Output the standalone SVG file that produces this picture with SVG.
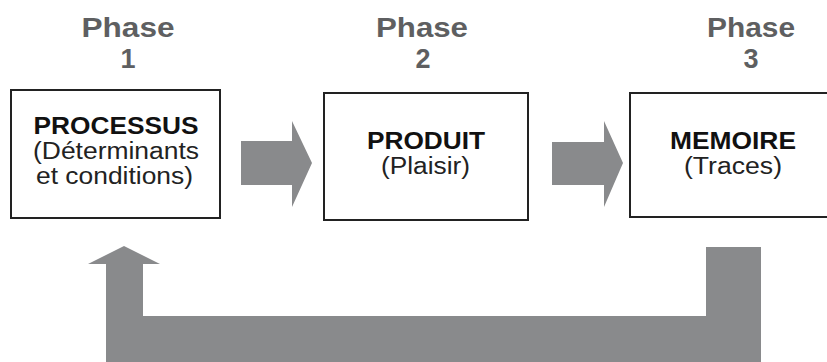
<svg xmlns="http://www.w3.org/2000/svg" width="827" height="362" viewBox="0 0 827 362">
  <style>
    .phase { font-family: "Liberation Sans", Arial, sans-serif; font-weight: bold; font-size: 27px; fill: #5e5f61; text-anchor: middle; }
    .title { font-family: "Liberation Sans", Arial, sans-serif; font-weight: bold; font-size: 23.5px; fill: #111; text-anchor: middle; }
    .sub { font-family: "Liberation Sans", Arial, sans-serif; font-size: 23.5px; fill: #222; text-anchor: middle; }
    .box { fill: #fff; stroke: #222; stroke-width: 2; }
    .flow { fill: #898a8c; }
  </style>
  <rect width="827" height="362" fill="#fff"/>

  <g id="phase1">
    <text class="phase" x="128" y="37" textLength="93" lengthAdjust="spacingAndGlyphs">Phase</text>
    <text class="phase" x="128" y="68">1</text>
  </g>
  <g id="phase2">
    <text class="phase" x="422" y="37" textLength="92" lengthAdjust="spacingAndGlyphs">Phase</text>
    <text class="phase" x="423" y="68">2</text>
  </g>
  <g id="phase3">
    <text class="phase" x="751" y="37" textLength="88" lengthAdjust="spacingAndGlyphs">Phase</text>
    <text class="phase" x="751" y="68">3</text>
  </g>

  <g id="processus">
    <rect class="box" x="11" y="90" width="209" height="128"/>
    <text class="title" x="116" y="134" textLength="165" lengthAdjust="spacingAndGlyphs">PROCESSUS</text>
    <text class="sub" x="116" y="159" textLength="166" lengthAdjust="spacingAndGlyphs">(Déterminants</text>
    <text class="sub" x="114.5" y="184" textLength="157" lengthAdjust="spacingAndGlyphs">et conditions)</text>
  </g>

  <g id="produit">
    <rect class="box" x="324" y="93" width="204" height="127"/>
    <text class="title" x="426" y="149" textLength="118" lengthAdjust="spacingAndGlyphs">PRODUIT</text>
    <text class="sub" x="425.5" y="174" textLength="89" lengthAdjust="spacingAndGlyphs">(Plaisir)</text>
  </g>

  <g id="memoire">
    <rect class="box" x="630" y="93" width="210" height="124"/>
    <text class="title" x="733" y="149" textLength="126" lengthAdjust="spacingAndGlyphs">MEMOIRE</text>
    <text class="sub" x="733" y="174" textLength="98" lengthAdjust="spacingAndGlyphs">(Traces)</text>
  </g>

  <g id="connectors">
    <polygon class="flow" points="241,141 292,141 292,121 312,163 292,207 292,185 241,185"/>
    <polygon class="flow" points="552,142 604,142 604,121 623,163 604,207 604,185 552,185"/>
    <polygon class="flow" points="124,246 160,264 143,264 143,316 706,316 706,247 761,247 761,370 106,370 106,264 88,264"/>
  </g>
</svg>
